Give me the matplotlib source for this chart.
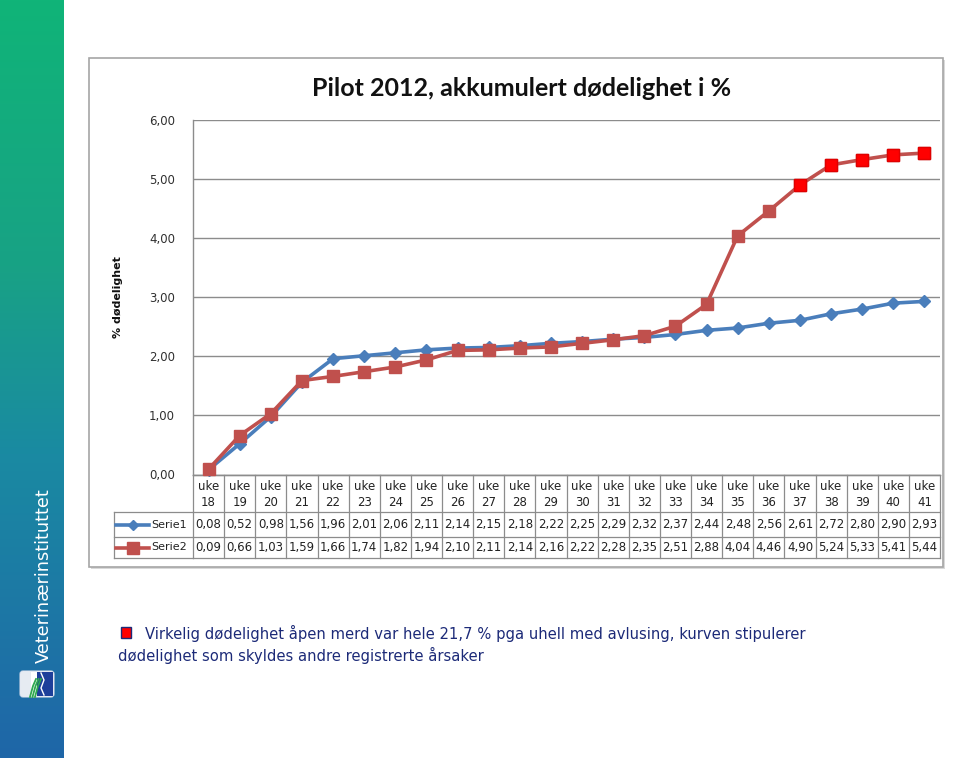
import numpy as np
import matplotlib
matplotlib.use("Agg")
import matplotlib.pyplot as plt
from matplotlib.transforms import blended_transform_factory
from matplotlib.patches import Rectangle, FancyBboxPatch
from matplotlib.colors import LinearSegmentedColormap

# ---------------- data ----------------
weeks = ["18", "19", "20", "21", "22", "23", "24", "25", "26", "27", "28", "29",
         "30", "31", "32", "33", "34", "35", "36", "37", "38", "39", "40", "41"]
serie1 = [0.08, 0.52, 0.98, 1.56, 1.96, 2.01, 2.06, 2.11, 2.14, 2.15, 2.18, 2.22,
          2.25, 2.29, 2.32, 2.37, 2.44, 2.48, 2.56, 2.61, 2.72, 2.80, 2.90, 2.93]
serie2 = [0.09, 0.66, 1.03, 1.59, 1.66, 1.74, 1.82, 1.94, 2.10, 2.11, 2.14, 2.16,
          2.22, 2.28, 2.35, 2.51, 2.88, 4.04, 4.46, 4.90, 5.24, 5.33, 5.41, 5.44]
highlight_from_week = "37"
series_names = ["Serie1", "Serie2"]
yticks = [0, 1, 2, 3, 4, 5, 6]
title = "Pilot 2012, akkumulert dødelighet i %"
ylabel = "% dødelighet"
note_line1 = "Virkelig dødelighet åpen merd var hele 21,7 % pga uhell med avlusing, kurven stipulerer"
note_line2 = "dødelighet som skyldes andre registrerte årsaker"
brand = "Veterinærinstituttet"

def fmt(v):
    return f"{v:.2f}".replace(".", ",")

W, H = 959, 758
fig = plt.figure(figsize=(W / 100, H / 100), dpi=100)
fig.patch.set_facecolor("white")

# overlay axes in pixel coordinates
over = fig.add_axes([0, 0, 1, 1], zorder=0)
over.set_xlim(0, W)
over.set_ylim(H, 0)
over.axis("off")

# sidebar gradient
cmap = LinearSegmentedColormap.from_list(
    "side", [(0.0, "#10b478"), (0.35, "#18a285"), (0.6, "#1a8aa2"), (1.0, "#1f66a8")])
grad = np.linspace(0, 1, 256).reshape(-1, 1)
over.imshow(grad, cmap=cmap, aspect="auto", extent=[0, 64, H, 0], zorder=1)
over.text(44, 576, brand, rotation=90, color="white", fontsize=12.8,
          ha="center", va="center", family="DejaVu Sans", zorder=3)
# logo
over.add_patch(FancyBboxPatch((20, 671), 34, 26, boxstyle="round,pad=0,rounding_size=3",
                              fc="white", ec="#d0d8e8", lw=0.8, zorder=3))
over.add_patch(Rectangle((37, 672), 16, 24, fc="#1d3f9a", ec="none", zorder=4))
over.add_patch(Rectangle((20.5, 672), 10, 24, fc="#e6ebf2", ec="none", zorder=4))
for dx in (0, 2.5, 5):
    over.plot([30 + dx, 33 + dx, 36 + dx], [697, 686, 679], color="#2fa84f", lw=1.3, zorder=5)
over.plot([41, 44, 41, 44], [673, 680, 688, 695], color="white", lw=1.0, zorder=5)

# chart frame
over.add_patch(Rectangle((91, 60), 854, 509, fc="#d9d9d9", ec="none", zorder=1))
over.add_patch(Rectangle((89, 58), 854, 509, fc="white", ec="#a6a6a6", lw=1.2, zorder=2))

over.text(522, 88, title, fontsize=18, fontweight="bold", ha="center", va="center",
          family="Lato", color="#111111", zorder=3)
over.text(118, 297, ylabel, rotation=90, fontsize=8, fontweight="bold", ha="center",
          va="center", family="DejaVu Sans", color="#111111", zorder=3)

# main axes
ax = fig.add_axes([193 / W, (H - 474.5) / H, (940 - 193) / W, (474.5 - 120) / H], zorder=2)
ax.patch.set_alpha(0)
x = np.arange(len(weeks))
ax.set_xlim(-0.5, len(weeks) - 0.5)
ax.set_ylim(0, 6)
ax.set_yticks(yticks)
ax.set_yticklabels([fmt(v) for v in yticks], fontsize=8.5, color="#303030")
ax.tick_params(axis="y", length=0, pad=13)
ax.set_xticks([])
for s in ("top", "right"):
    ax.spines[s].set_visible(False)
for s in ("left", "bottom"):
    ax.spines[s].set_color("#8c8c8c")
    ax.spines[s].set_linewidth(1.0)
ax.grid(axis="y", color="#8c8c8c", lw=1.0)
ax.set_axisbelow(True)

c1 = "#4a7ebb"
c2 = "#c0504d"
ax.plot(x, serie1, color=c1, lw=2.6, marker="D", ms=6.5, mec=c1, clip_on=False, zorder=3)
ax.plot(x, serie2, color=c2, lw=2.6, marker="s", ms=9, mec=c2, clip_on=False, zorder=4)
hi = weeks.index(highlight_from_week)
ax.plot(x[hi:], serie2[hi:], ls="none", marker="s", ms=9, color="#ff0000",
        mec="#e00000", clip_on=False, zorder=5)

# table
tr = blended_transform_factory(ax.transData, over.transData)
grid_c = "#8c8c8c"
y_top, y_h, y_r1, y_r2 = 474.5, 512, 537, 558
x_left_px = 114
n = len(weeks)
for i in range(n + 1):
    over.plot([i - 0.5, i - 0.5], [y_top, y_r2], color=grid_c, lw=0.9, transform=tr, zorder=3)
over.plot([-0.5, n - 0.5], [y_top, y_top], color=grid_c, lw=0.9, transform=tr, zorder=3)
for yy in (y_h, y_r1, y_r2):
    over.plot([x_left_px, 193], [yy, yy], color=grid_c, lw=0.9, zorder=3)
    over.plot([-0.5, n - 0.5], [yy, yy], color=grid_c, lw=0.9, transform=tr, zorder=3)
over.plot([x_left_px, x_left_px], [y_h, y_r2], color=grid_c, lw=0.9, zorder=3)

tfs = 8.5
for i, w in enumerate(weeks):
    over.text(i, 486, "uke", transform=tr, ha="center", va="center", fontsize=tfs,
              color="#222222", zorder=4)
    over.text(i, 502.5, w, transform=tr, ha="center", va="center", fontsize=tfs,
              color="#222222", zorder=4)
    over.text(i, (y_h + y_r1) / 2, fmt(serie1[i]), transform=tr, ha="center", va="center",
              fontsize=tfs, color="#222222", zorder=4)
    over.text(i, (y_r1 + y_r2) / 2, fmt(serie2[i]), transform=tr, ha="center", va="center",
              fontsize=tfs, color="#222222", zorder=4)

for yy, name, col, mk, ms in (((y_h + y_r1) / 2, series_names[0], c1, "D", 5.5),
                              ((y_r1 + y_r2) / 2, series_names[1], c2, "s", 8)):
    over.plot([116, 149], [yy, yy], color=col, lw=2.6, zorder=4)
    over.plot([132.5], [yy], marker=mk, ms=ms, color=col, zorder=5)
    over.text(151, yy, name, ha="left", va="center", fontsize=8, color="#222222", zorder=4)

# notes
over.add_patch(Rectangle((121, 627), 10, 11, fc="#ff0000", ec="#1c2a78", lw=1.0, zorder=3))
over.text(145, 633, note_line1, ha="left", va="center", fontsize=10.6,
          color="#1c2a78", zorder=3)
over.text(118, 655, note_line2, ha="left", va="center", fontsize=10.6,
          color="#1c2a78", zorder=3)

fig.savefig("out.png", dpi=100)
